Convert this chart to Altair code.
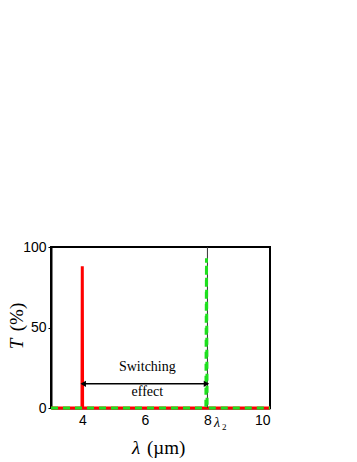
import altair as alt
import pandas as pd

red_x = [3.0, 3.99, 4.0, 4.01, 10.0]
red_y = [0, 0, 88, 0, 0]
green_x = [3.0, 7.95, 7.97, 7.99, 10.0]
green_y = [0, 0, 93, 0, 0]
marker_x = [8, 8]
marker_y = [0, 100]
arrow_x = [4.03, 7.97]
arrow_y = [15, 15]
x_ticks = [4, 6, 8, 10]
y_ticks = [0, 50, 100]
labels = ["Switching", "effect"]
label_x = [6.08, 6.08]
label_y = [25.5, 10]

red = pd.DataFrame({"x": red_x, "y": red_y, "o": range(len(red_x))})
green = pd.DataFrame({"x": green_x, "y": green_y, "o": range(len(green_x))})
mk = pd.DataFrame({"x": marker_x, "y": marker_y})
arr = pd.DataFrame({"x": arrow_x, "y": arrow_y, "shape": ["triangle-left", "triangle-right"]})
lab = pd.DataFrame({"x": label_x, "y": label_y, "t": labels})

xs = alt.Scale(domain=[3, 10], nice=False)
ys = alt.Scale(domain=[0, 100], nice=False)
xax = alt.Axis(values=x_ticks, title=None, labelFont="Liberation Sans", labelFontSize=14,
               labelColor="black", ticks=False, grid=False,
               domainColor="black", domainWidth=2, labelPadding=5)
yax = alt.Axis(values=y_ticks, title=None, labelFont="Liberation Sans", labelFontSize=14,
               labelColor="black", tickColor="black", tickSize=3, grid=False,
               domainColor="black", domainWidth=2, labelPadding=2)

base_red = alt.Chart(red).mark_line(color="#ff0000", strokeWidth=3).encode(
    x=alt.X("x:Q", scale=xs, axis=xax), y=alt.Y("y:Q", scale=ys, axis=yax), order="o:Q")
vline = alt.Chart(mk).mark_line(color="#333333", strokeWidth=1).encode(
    x=alt.X("x:Q", scale=xs), y=alt.Y("y:Q", scale=ys))
gline = alt.Chart(green).mark_line(color="#1ee01e", strokeWidth=3, strokeDash=[7, 5]).encode(
    x=alt.X("x:Q", scale=xs), y=alt.Y("y:Q", scale=ys), order="o:Q")
arrow_line = alt.Chart(arr).mark_line(color="black", strokeWidth=1.5).encode(
    x=alt.X("x:Q", scale=xs), y=alt.Y("y:Q", scale=ys))
heads = alt.Chart(arr).mark_point(filled=True, color="black", size=40, opacity=1).encode(
    x=alt.X("x:Q", scale=xs), y=alt.Y("y:Q", scale=ys),
    shape=alt.Shape("shape:N", scale=None, legend=None))
texts = alt.Chart(lab).mark_text(font="Liberation Serif", fontSize=14, color="black").encode(
    x=alt.X("x:Q", scale=xs), y=alt.Y("y:Q", scale=ys), text="t:N")

lam2 = alt.Chart(pd.DataFrame({"t": ["λ"]})).mark_text(
    font="Liberation Serif", fontSize=14, fontStyle="italic", color="black", align="left").encode(
    x=alt.value(163), y=alt.value(176), text="t:N")
sub2 = alt.Chart(pd.DataFrame({"t": ["2"]})).mark_text(
    font="Liberation Serif", fontSize=9, color="black", align="left").encode(
    x=alt.value(171), y=alt.value(180), text="t:N")

xt1 = alt.Chart(pd.DataFrame({"t": ["λ"]})).mark_text(
    font="Liberation Serif", fontSize=19, fontStyle="italic", color="black", align="left").encode(
    x=alt.value(81), y=alt.value(201), text="t:N")
xt2 = alt.Chart(pd.DataFrame({"t": ["(µm)"]})).mark_text(
    font="Liberation Serif", fontSize=19, color="black", align="left").encode(
    x=alt.value(96), y=alt.value(201), text="t:N")
yt1 = alt.Chart(pd.DataFrame({"t": ["T"]})).mark_text(
    font="Liberation Serif", fontSize=19, fontStyle="italic", color="black", angle=270).encode(
    x=alt.value(-34), y=alt.value(97), text="t:N")
yt2 = alt.Chart(pd.DataFrame({"t": ["(%)"]})).mark_text(
    font="Liberation Serif", fontSize=19, color="black", angle=270).encode(
    x=alt.value(-34), y=alt.value(70), text="t:N")

chart = alt.layer(base_red, vline, gline, arrow_line, heads, texts, lam2, sub2,
                  xt1, xt2, yt1, yt2).properties(
    width=219, height=161,
    autosize=alt.AutoSizeParams(type="none"),
    padding={"left": 43, "top": 239, "right": 60, "bottom": 50},
).configure_view(stroke="black", strokeWidth=2)

chart.save("out.html", embed_options={"renderer": "svg", "actions": False})
